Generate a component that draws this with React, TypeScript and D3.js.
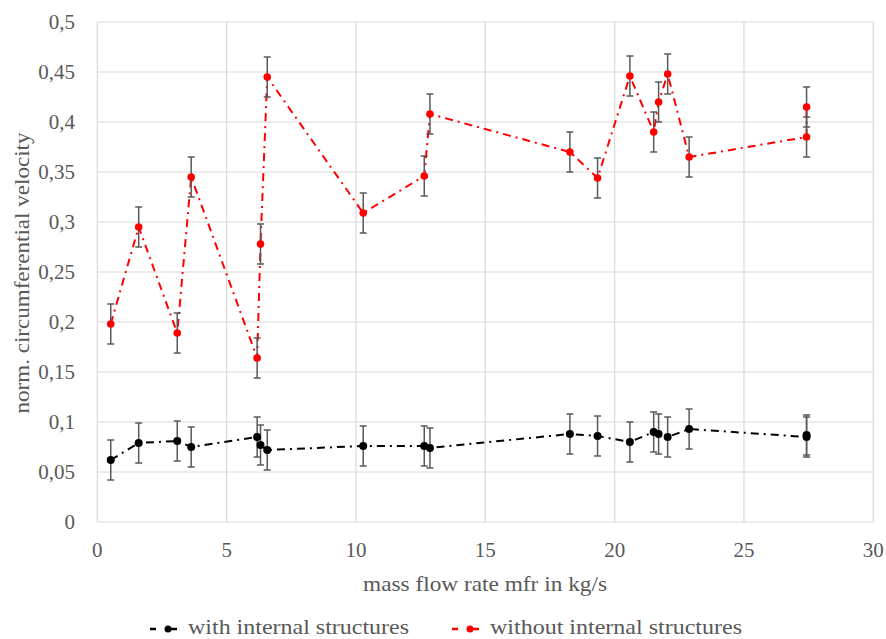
import React from "react";
import * as d3 from "d3";

const massFlow = [0.52, 1.6, 3.09, 3.63, 6.18, 6.31, 6.57, 10.28, 12.64, 12.86, 18.27, 19.34, 20.59, 21.51, 21.7, 22.05, 22.88, 27.42, 27.42];
const withInternal = [0.062, 0.079, 0.081, 0.075, 0.085, 0.077, 0.072, 0.076, 0.076, 0.074, 0.088, 0.086, 0.08, 0.09, 0.088, 0.085, 0.093, 0.085, 0.087];
const withoutInternal = [0.198, 0.295, 0.189, 0.345, 0.164, 0.278, 0.445, 0.309, 0.346, 0.408, 0.37, 0.344, 0.446, 0.39, 0.42, 0.448, 0.365, 0.385, 0.415];
const errWith = [0.02, 0.02, 0.02, 0.02, 0.02, 0.02, 0.02, 0.02, 0.02, 0.02, 0.02, 0.02, 0.02, 0.02, 0.02, 0.02, 0.02, 0.02, 0.02];
const errWithout = [0.02, 0.02, 0.02, 0.02, 0.02, 0.02, 0.02, 0.02, 0.02, 0.02, 0.02, 0.02, 0.02, 0.02, 0.02, 0.02, 0.02, 0.02, 0.02];
const xTicks = [0, 5, 10, 15, 20, 25, 30];
const yTicks = [0, 0.05, 0.1, 0.15, 0.2, 0.25, 0.3, 0.35, 0.4, 0.45, 0.5];
const seriesNames = ["with internal structures", "without internal structures"];
const xTitle = "mass flow rate mfr in kg/s";
const yTitle = "norm. circumferential velocity";

const W = 886;
const H = 639;
const FONT = "'Liberation Serif', 'Times New Roman', serif";
const TXT = "#595959";
const GRID = "#d9d9d9";
const ERR = "#595959";

const locale = d3.formatLocale({ decimal: ",", thousands: ".", grouping: [3], currency: ["", ""] });
const fmt = locale.format("~g");

export default function App() {
  const x = d3.scaleLinear().domain([0, 30]).range([97.3, 873.3]);
  const y = d3.scaleLinear().domain([0, 0.5]).range([522, 22]);

  const series = [
    { name: seriesNames[0], vals: withInternal, err: errWith, color: "#000000", r: 4 },
    { name: seriesNames[1], vals: withoutInternal, err: errWithout, color: "#ff0000", r: 3.8 },
  ];

  const line = d3
    .line<[number, number]>()
    .x((d) => x(d[0]))
    .y((d) => y(d[1]));

  return (
    <svg width={W} height={H} style={{ position: "absolute", left: 0, top: 0, background: "#fff" }} fontFamily={FONT}>
      <rect x={0} y={0} width={W} height={H} fill="#fff" />
      {yTicks.map((t) => (
        <line key={"gy" + t} x1={x(0)} x2={x(30)} y1={y(t)} y2={y(t)} stroke={GRID} strokeWidth={1.2} />
      ))}
      {xTicks.map((t) => (
        <line key={"gx" + t} x1={x(t)} x2={x(t)} y1={y(0)} y2={y(0.5)} stroke={GRID} strokeWidth={1.2} />
      ))}
      {yTicks.map((t) => (
        <text key={"ty" + t} x={75} y={y(t) + 7} textAnchor="end" fontSize={21} fill={TXT}>
          {fmt(t)}
        </text>
      ))}
      {xTicks.map((t) => (
        <text key={"tx" + t} x={x(t)} y={557} textAnchor="middle" fontSize={21} fill={TXT}>
          {fmt(t)}
        </text>
      ))}
      <text x={485} y={591} textAnchor="middle" fontSize={21} fill={TXT} textLength={244} lengthAdjust="spacingAndGlyphs">
        {xTitle}
      </text>
      <text
        transform={`translate(29,273) rotate(-90)`}
        textAnchor="middle"
        fontSize={21}
        fill={TXT}
        textLength={281}
        lengthAdjust="spacingAndGlyphs"
      >
        {yTitle}
      </text>
      {series.map((s) => {
        const pts: [number, number][] = massFlow.map((m, i) => [m, s.vals[i]]);
        return (
          <g key={s.name}>
            <path d={line(pts) || ""} fill="none" stroke={s.color} strokeWidth={2} strokeDasharray="8,5,2,5" />
            {pts.map((p, i) => (
              <g key={i}>
                <line x1={x(p[0])} x2={x(p[0])} y1={y(p[1] - s.err[i])} y2={y(p[1] + s.err[i])} stroke={ERR} strokeWidth={1.5} />
                <line x1={x(p[0]) - 3.5} x2={x(p[0]) + 3.5} y1={y(p[1] - s.err[i])} y2={y(p[1] - s.err[i])} stroke={ERR} strokeWidth={1.5} />
                <line x1={x(p[0]) - 3.5} x2={x(p[0]) + 3.5} y1={y(p[1] + s.err[i])} y2={y(p[1] + s.err[i])} stroke={ERR} strokeWidth={1.5} />
              </g>
            ))}
            {pts.map((p, i) => (
              <circle key={"c" + i} cx={x(p[0])} cy={y(p[1])} r={s.r} fill={s.color} />
            ))}
          </g>
        );
      })}
      {[
        { s: series[0], x0: 150, tx: 188, tl: 221 },
        { s: series[1], x0: 452, tx: 490, tl: 252 },
      ].map((l) => (
        <g key={"lg" + l.s.name}>
          <line x1={l.x0} x2={l.x0 + 6} y1={629} y2={629} stroke={l.s.color} strokeWidth={2.5} />
          <line x1={l.x0 + 18} x2={l.x0 + 27} y1={629} y2={629} stroke={l.s.color} strokeWidth={2.5} />
          <circle cx={l.x0 + 18} cy={629} r={3.5} fill={l.s.color} />
          <text x={l.tx} y={634} fontSize={21} fill={TXT} textLength={l.tl} lengthAdjust="spacingAndGlyphs">
            {l.s.name}
          </text>
        </g>
      ))}
    </svg>
  );
}
